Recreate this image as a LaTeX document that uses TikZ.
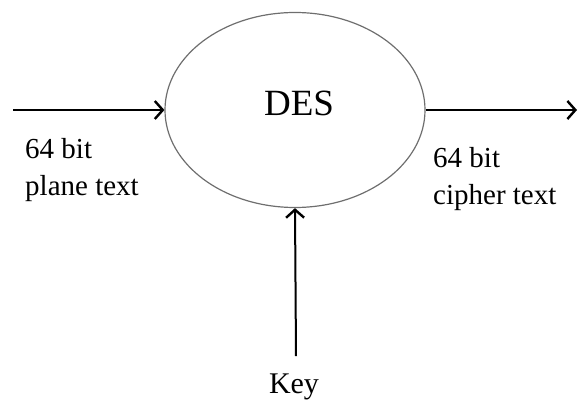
\documentclass[tikz,border=0pt]{standalone}
\usepackage{fontspec}
\setmainfont{Liberation Serif}
\usetikzlibrary{arrows.meta}
\usetikzlibrary{positioning}
\usetikzlibrary{shapes.geometric}
\definecolor{EdgeGray}{RGB}{110,110,110}
\tikzset{
	block/.style={ellipse, draw=EdgeGray, line width=1.2pt, minimum width=260pt, minimum height=195pt, inner sep=0pt},
	flow/.style={line width=2pt, draw=black, -{Straight Barb[length=8pt, width=18pt, line width=2.4pt]}},
	lab/.style={font=\fontsize{29}{37}\selectfont, align=left, inner sep=0pt, anchor=north west}
}

\begin{document}
\begin{tikzpicture}[x=1pt, y=-1pt]
		\useasboundingbox (0,0) rectangle (579,401);
		\node[block] (des) at (295,110) {};
		\node[font=\fontsize{37}{40}\selectfont, inner sep=0pt, anchor=base] (deslabel) at (299,116) {DES};
		\coordinate (inL) at (13,110);
		\coordinate (outR) at (577,110);
		\node[font=\fontsize{30}{34}\selectfont, inner sep=0pt, anchor=base] (key) at (294,393) {Key};
		\node[lab] (plain) at (25,138) {64 bit\\plane text};
		\node[lab] (cipher) at (433,147) {64 bit\\cipher text};
		\draw[flow] (inL) -- (des);
		\draw[flow] (des) -- (outR);
		\draw[flow] ([xshift=2pt, yshift=17pt]key.north) -- (des.south);
	\end{tikzpicture}
\end{document}
